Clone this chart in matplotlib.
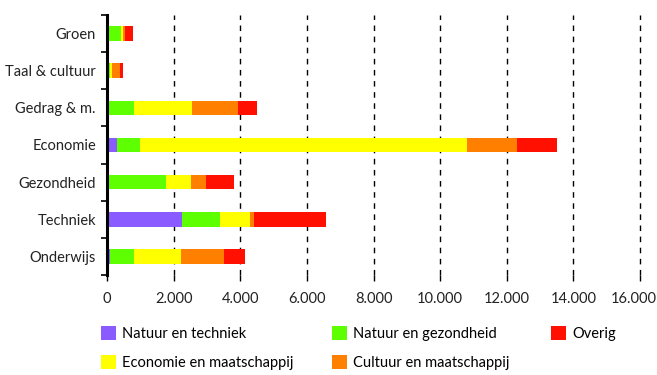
import numpy as np
import matplotlib.pyplot as plt
import matplotlib.transforms as mtransforms
from matplotlib.ticker import FuncFormatter, FixedLocator

plt.rcParams['font.family'] = ['Lato', 'DejaVu Sans']

categories = ['Groen', 'Taal & cultuur', 'Gedrag & m.', 'Economie', 'Gezondheid', 'Techniek', 'Onderwijs']
natuur_techniek = [0, 0, 0, 300, 70, 2250, 100]
natuur_gezondheid = [410, 90, 800, 680, 1710, 1150, 700]
economie_maatschappij = [80, 60, 1760, 9840, 740, 880, 1420]
cultuur_maatschappij = [40, 230, 1380, 1480, 460, 120, 1300]
overig = [260, 100, 570, 1220, 840, 2170, 610]

series = [
    ('Natuur en techniek', natuur_techniek, '#8a5cff'),
    ('Natuur en gezondheid', natuur_gezondheid, '#5eff00'),
    ('Economie en maatschappij', economie_maatschappij, '#ffff00'),
    ('Cultuur en maatschappij', cultuur_maatschappij, '#ff8000'),
    ('Overig', overig, '#ff1000'),
]

fig = plt.figure(figsize=(6.57, 3.75), dpi=100)
ax = fig.add_axes([107/657, 1 - 275/375, 533/657, 260/375])

y = np.arange(len(categories))
left = np.zeros(len(categories))
bars = {}
for name, vals, col in series:
    vals = np.array(vals, dtype=float)
    bars[name] = ax.barh(y, vals, left=left, height=0.39, color=col, label=name, zorder=3)
    left += vals

ax.set_ylim(len(categories) - 0.5, -0.5)
ax.set_yticks(y)
ax.set_yticklabels(categories, fontsize=10.5, color='#222222')
ax.yaxis.set_minor_locator(FixedLocator(np.arange(-0.5, len(categories), 1)))
ax.tick_params(axis='y', which='major', length=0, pad=8)
ax.tick_params(axis='y', which='minor', length=4, width=1.2, color='black')

ax.set_xlim(0, 16000)
ax.set_xticks(np.arange(0, 16001, 2000))
ax.xaxis.set_major_formatter(FuncFormatter(lambda v, p: f'{int(v):,}'.replace(',', '.')))
ax.tick_params(axis='x', length=4, width=1, color='black', labelsize=10.5, labelcolor='#222222', pad=8)
ax.grid(axis='x', color='black', linestyle=(0, (4, 4)), linewidth=1, zorder=1)
for gl in ax.get_xgridlines():
    gl.set_clip_on(False)

# last tick label sits a little to the left so it fits
lab = ax.get_xticklabels()[-1]
lab.set_transform(lab.get_transform() + mtransforms.ScaledTranslation(-6/100, 0, fig.dpi_scale_trans))

for s in ['top', 'right', 'bottom']:
    ax.spines[s].set_visible(False)
ax.spines['left'].set_linewidth(2.2)
ax.spines['left'].set_zorder(4)

columns = [
    (101, ['Natuur en techniek', 'Economie en maatschappij']),
    (332, ['Natuur en gezondheid', 'Cultuur en maatschappij']),
    (551, ['Overig']),
]
for xpx, names in columns:
    fig.legend([bars[n] for n in names], names, loc='upper left',
               bbox_to_anchor=(xpx/657, 1 - 326/375), frameon=False, fontsize=10.5,
               borderpad=0, borderaxespad=0,
               handlelength=1.05, handleheight=1.05, handletextpad=0.4,
               labelspacing=1.0)

fig.savefig('out.png', dpi=100)
